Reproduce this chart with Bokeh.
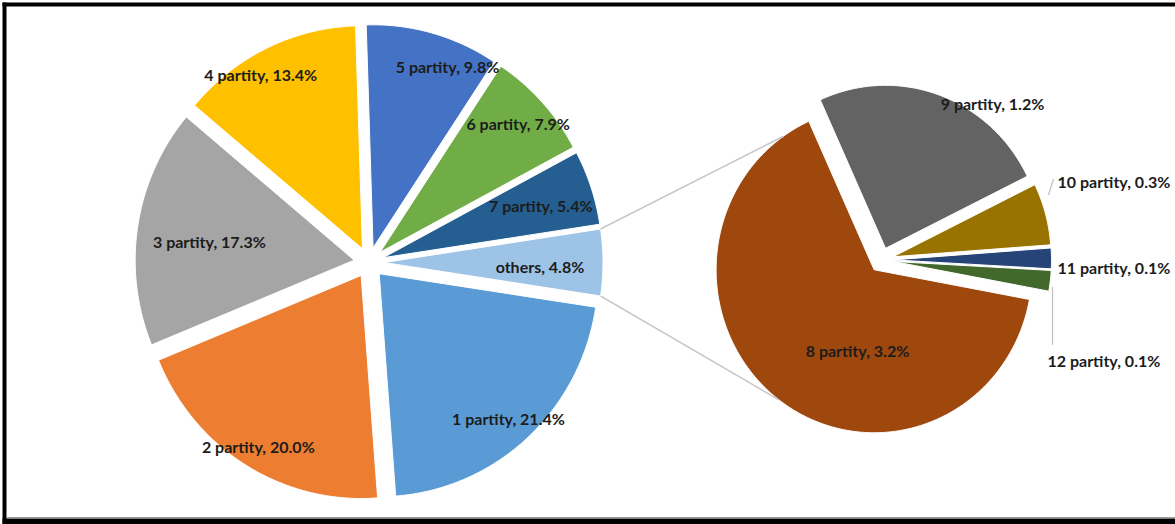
import numpy as np
from bokeh.plotting import figure
from bokeh.models import Range1d, ColumnDataSource
from bokeh.core.properties import value
from bokeh.embed import file_html
from bokeh.resources import INLINE

# ---------------- data ----------------
main_labels = ["1 partity", "2 partity", "3 partity", "4 partity",
               "5 partity", "6 partity", "7 partity", "others"]
main_values = [21.4, 20.0, 17.3, 13.4, 9.8, 7.9, 5.4, 4.8]

sub_labels = ["8 partity", "9 partity", "10 partity", "11 partity", "12 partity"]
sub_values = [3.2, 1.2, 0.3, 0.1, 0.1]

# ---------------- styling / layout ----------------
main_colors = ["#5B9BD5", "#ED7D31", "#A5A5A5", "#FFC000",
               "#4472C4", "#70AD47", "#255E91", "#9DC3E6"]
sub_colors = ["#9E480E", "#636363", "#997300", "#264478", "#43682B"]

W, H = 1175, 524
MAIN_C = (368.5, H - 262)
MAIN_RX, MAIN_RY = 219, 223
MAIN_EXPLODE = 15
SUB_C = (881, H - 259.5)
SUB_RX, SUB_RY = 158, 163
SUB_EXPLODE = 12
SUB_START = -10.5  # degrees, clockwise start of first sub slice

MAIN_LABEL_DIST = [209, 215, 161, 217, 211, 204, 181, 171]
MAIN_LABEL_DANG = [-1, 0.7, 1.3, 4, -6, 0.7, 0, -1.3]
SUB_LABEL_OFF = [(-24, -90), (111, 157), (176, 79), (176, -7), (166, -100)]
SUB_LABEL_ALIGN = ["center", "center", "left", "left", "left"]
SUB_LEADERS = {2: ((167, 65), (172, 81)), 4: ((171, -27), (171, -85))}
CONNECT_ANG = (125.0, 233.0)

FONT = "Lato"
FSIZE = "16px"
TXT = "#1c1c1c"


def pie_geometry(values, start_deg, center, explode, rx, ry):
    vals = np.array(values, dtype=float)
    deg = vals / vals.sum() * 360.0
    hi = start_deg - np.concatenate([[0], np.cumsum(deg)[:-1]])
    lo = hi - deg
    bis = np.radians((lo + hi) / 2)
    xs = center[0] + explode * np.cos(bis)
    ys = center[1] + explode * (ry / rx) * np.sin(bis)
    return np.radians(lo), np.radians(hi), bis, xs, ys


def wedge_patches(lo, hi, cx, cy, rx, ry):
    px, py = [], []
    for a, b, x0, y0 in zip(lo, hi, cx, cy):
        n = max(8, int(np.degrees(b - a) * 1.5))
        t = np.linspace(a, b, n)
        px.append(np.concatenate([[x0], x0 + rx * np.cos(t)]))
        py.append(np.concatenate([[y0], y0 + ry * np.sin(t)]))
    return px, py


p = figure(width=W, height=H, x_range=Range1d(0, W), y_range=Range1d(0, H),
           output_backend="svg", toolbar_location=None, min_border=0)
p.axis.visible = False
p.grid.visible = False
p.outline_line_color = None
p.background_fill_color = "white"

# ---- main pie ----
m_deg0 = main_values[-1] / sum(main_values) * 360.0
m_lo, m_hi, m_bis, m_x, m_y = pie_geometry(main_values, -m_deg0 / 2, MAIN_C,
                                           MAIN_EXPLODE, MAIN_RX, MAIN_RY)
mpx, mpy = wedge_patches(m_lo, m_hi, m_x, m_y, MAIN_RX, MAIN_RY)
p.patches(xs=mpx, ys=mpy, fill_color=main_colors, line_color="white", line_width=1)

# ---- sub pie ----
s_lo, s_hi, s_bis, s_x, s_y = pie_geometry(sub_values, SUB_START, SUB_C,
                                           SUB_EXPLODE, SUB_RX, SUB_RY)
spx, spy = wedge_patches(s_lo, s_hi, s_x, s_y, SUB_RX, SUB_RY)
p.patches(xs=spx, ys=spy, fill_color=sub_colors, line_color="white", line_width=1)

# ---- connector lines (others slice edges -> sub pie) ----
o_x, o_y = m_x[-1], m_y[-1]
a_top, a_bot = m_hi[-1], m_lo[-1]
p1 = (o_x + MAIN_RX * np.cos(a_top), o_y + MAIN_RY * np.sin(a_top))
p2 = (o_x + MAIN_RX * np.cos(a_bot), o_y + MAIN_RY * np.sin(a_bot))
q1 = (s_x[0] + SUB_RX * np.cos(np.radians(CONNECT_ANG[0])),
      s_y[0] + SUB_RY * np.sin(np.radians(CONNECT_ANG[0])))
q2 = (s_x[0] + SUB_RX * np.cos(np.radians(CONNECT_ANG[1])),
      s_y[0] + SUB_RY * np.sin(np.radians(CONNECT_ANG[1])))
p.segment(x0=[p1[0], p2[0]], y0=[p1[1], p2[1]], x1=[q1[0], q2[0]], y1=[q1[1], q2[1]],
          line_color="#C8C8C8", line_width=1.5)

# ---- leader lines ----
for i, (a, b) in SUB_LEADERS.items():
    p.segment(x0=[SUB_C[0] + a[0]], y0=[SUB_C[1] + a[1]],
              x1=[SUB_C[0] + b[0]], y1=[SUB_C[1] + b[1]],
              line_color="#BFBFBF", line_width=1.2)

# ---- labels ----
m_text = [f"{l}, {v:.1f}%" for l, v in zip(main_labels, main_values)]
ang = m_bis + np.radians(MAIN_LABEL_DANG)
mlx = MAIN_C[0] + np.array(MAIN_LABEL_DIST) * np.cos(ang)
mly = MAIN_C[1] + np.array(MAIN_LABEL_DIST) * np.sin(ang)
p.text(x=mlx, y=mly, text=m_text, text_font=value(FONT), text_font_size=FSIZE,
       text_font_style="bold", text_color=TXT, text_align="center",
       text_baseline="middle")

s_text = [f"{l}, {v:.1f}%" for l, v in zip(sub_labels, sub_values)]
src = ColumnDataSource(dict(
    x=[SUB_C[0] + o[0] for o in SUB_LABEL_OFF],
    y=[SUB_C[1] + o[1] for o in SUB_LABEL_OFF],
    t=s_text, al=SUB_LABEL_ALIGN))
p.text(x="x", y="y", text="t", text_align="al", source=src,
       text_font=value(FONT), text_font_size=FSIZE, text_font_style="bold",
       text_color=TXT, text_baseline="middle")

# ---- picture frame ----
p.quad(left=[2, 2, 2], right=[6, W, W], bottom=[0, H - 6, 0], top=[H - 2, H - 2, 6],
       fill_color="black", line_color=None)
p.segment(x0=[6], y0=[7], x1=[W], y1=[7], line_color="#9A9A9A", line_width=1)

open("out.html", "w").write(file_html(p, INLINE))
